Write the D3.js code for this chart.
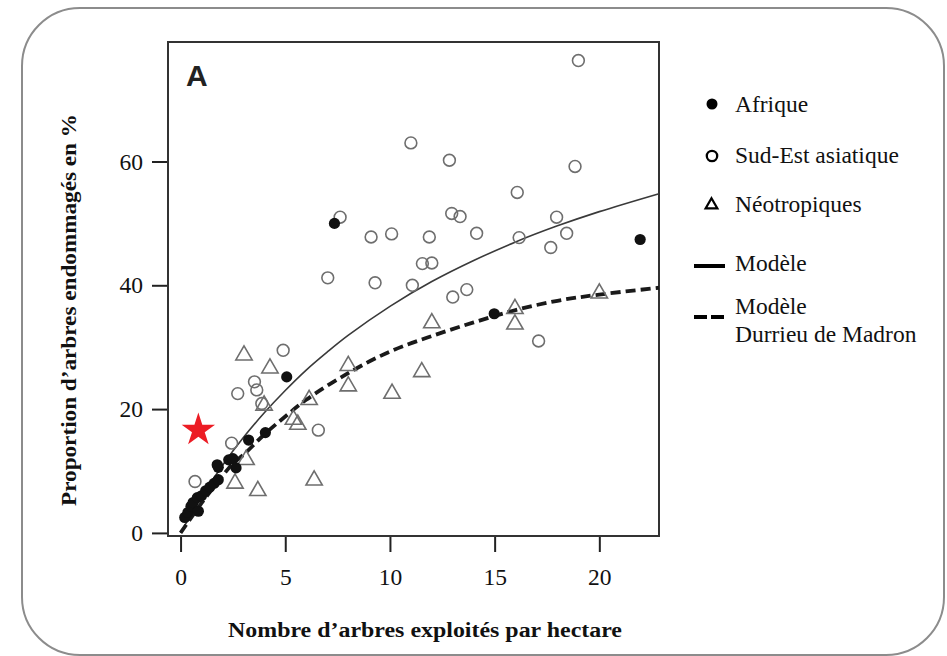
<!DOCTYPE html>
<html>
<head>
<meta charset="utf-8">
<script src="https://cdn.jsdelivr.net/npm/d3@7"></script>
<style>
  html, body { margin: 0; padding: 0; background: #fff; }
  svg { display: block; }
</style>
</head>
<body>
<script>
// ---------------- DATA ----------------
const xTicks = [0, 5, 10, 15, 20];
const yTicks = [0, 20, 40, 60];

const afrique = [
  [0.2, 2.5], [0.35, 3.3], [0.5, 4.3], [0.6, 4.9], [0.85, 3.5], [0.8, 5.7],
  [1.0, 6.0], [1.2, 6.8], [1.4, 7.4], [1.6, 8.0], [1.8, 8.6], [1.8, 10.6],
  [1.75, 11.0], [2.3, 11.8], [2.5, 12.0], [2.65, 10.5], [3.25, 15.0], [4.05, 16.2],
  [5.07, 25.2], [7.35, 50.0], [14.98, 35.4], [21.95, 47.4]
];

const sudEst = [
  [0.69, 8.3], [2.44, 14.5], [2.73, 22.5], [3.53, 24.4], [3.64, 23.1], [3.88, 20.9],
  [4.9, 29.5], [6.58, 16.6], [7.03, 41.2], [7.62, 51.0], [9.1, 47.8], [9.29, 40.4],
  [10.08, 48.3], [11.0, 63.0], [11.07, 40.0], [11.55, 43.5], [11.88, 47.8], [12.0, 43.6],
  [12.84, 60.2], [12.95, 51.6], [13.0, 38.1], [13.35, 51.1], [13.67, 39.3], [14.14, 48.4],
  [16.08, 55.0], [16.17, 47.7], [17.1, 31.0], [17.68, 46.1], [17.96, 51.0], [18.44, 48.4],
  [18.84, 59.2], [19.0, 76.3]
];

const neotropiques = [
  [2.6, 8.0], [3.13, 11.8], [3.03, 28.7], [3.69, 6.8], [3.99, 20.6], [4.27, 26.6],
  [5.39, 18.3], [5.6, 17.5], [6.14, 21.5], [6.38, 8.5], [8.01, 27.0], [8.01, 23.7],
  [10.1, 22.5], [11.52, 26.0], [12.0, 33.9], [15.97, 36.2], [15.97, 33.7], [20.0, 38.7]
];

// model curves, values
const modeleX = [0, 1, 2, 3, 4, 5, 6, 7, 8, 10, 12, 14, 16, 18, 20, 22.85];
const modeleY = [0, 5.8, 10.9, 15.4, 19.4, 23.0, 26.3, 29.2, 31.9, 36.6, 40.6, 44.0, 47.0, 49.6, 51.9, 54.8];

const durrieuX = [0, 1, 2, 2.5, 3, 4, 5, 6, 8, 10, 12, 14, 16, 18, 20, 22.85];
const durrieuY = [0, 4.8, 9.2, 11.2, 12.6, 15.9, 18.8, 21.5, 25.8, 29.3, 31.8, 34.0, 36.0, 37.5, 38.5, 39.6];

const starPoint = [0.85, 16.6];

const legendLabels = ["Afrique", "Sud-Est asiatique", "Néotropiques", "Modèle", ["Modèle", "Durrieu de Madron"]];

// ---------------- LAYOUT ----------------
const W = 947, H = 656;
const svg = d3.select("body").append("svg").attr("width", W).attr("height", H);
svg.append("rect").attr("width", W).attr("height", H).attr("fill", "#fff");

// outer rounded frame
svg.append("rect")
  .attr("x", 22).attr("y", 8).attr("width", 922).attr("height", 647)
  .attr("rx", 58).attr("ry", 58)
  .attr("fill", "none").attr("stroke", "#8c8c8c").attr("stroke-width", 2);

const x = d3.scaleLinear().domain([-0.6, 22.85]).range([168, 659]);
const y = d3.scaleLinear().domain([-0.5, 79.3]).range([536, 42]);

const serif = "'Liberation Serif', 'Times New Roman', serif";

// axes
const xAxis = d3.axisBottom(x).tickValues(xTicks).tickSize(16).tickPadding(16).tickSizeOuter(0);
const yAxis = d3.axisLeft(y).tickValues(yTicks).tickSize(16).tickPadding(9).tickSizeOuter(0);

const gx = svg.append("g").attr("transform", "translate(0,536)").call(xAxis);
const gy = svg.append("g").attr("transform", "translate(168,0)").call(yAxis);
[gx, gy].forEach(g => {
  g.attr("font-family", serif).attr("font-size", 23.5);
  g.select(".domain").remove();
  g.selectAll(".tick line").attr("stroke", "#222").attr("stroke-width", 2);
  g.selectAll(".tick text").attr("font-family", serif).attr("font-size", 23.5).attr("fill", "#111");
});

// plot frame
svg.append("rect")
  .attr("x", 168).attr("y", 42).attr("width", 491).attr("height", 494)
  .attr("fill", "none").attr("stroke", "#333").attr("stroke-width", 2);

// panel letter
svg.append("text").attr("x", 186).attr("y", 86)
  .attr("font-family", "'Liberation Sans', Arial, sans-serif").attr("font-weight", "bold")
  .attr("font-size", 30).attr("fill", "#222").text("A");

// model lines
const line = d3.line().x(d => x(d[0])).y(d => y(d[1])).curve(d3.curveCatmullRom);
svg.append("path")
  .datum(modeleX.map((v, i) => [v, modeleY[i]]))
  .attr("d", line).attr("fill", "none").attr("stroke", "#3a3a3a").attr("stroke-width", 1.6);
svg.append("path")
  .datum(durrieuX.map((v, i) => [v, durrieuY[i]]))
  .attr("d", line).attr("fill", "none").attr("stroke", "#1a1a1a")
  .attr("stroke-width", 3.8).attr("stroke-dasharray", "10,5");

// markers
const grey = "#6e6e6e";
const tri = d3.symbol().type(d3.symbolTriangle).size(115);
svg.append("g").selectAll("path").data(neotropiques).join("path")
  .attr("d", tri)
  .attr("transform", d => `translate(${x(d[0])},${y(d[1])})`)
  .attr("fill", "none").attr("stroke", grey).attr("stroke-width", 1.6);

svg.append("g").selectAll("circle").data(sudEst).join("circle")
  .attr("cx", d => x(d[0])).attr("cy", d => y(d[1])).attr("r", 5.9)
  .attr("fill", "none").attr("stroke", grey).attr("stroke-width", 1.6);

svg.append("g").selectAll("circle").data(afrique).join("circle")
  .attr("cx", d => x(d[0])).attr("cy", d => y(d[1])).attr("r", 5.6)
  .attr("fill", "#111");

// red star
svg.append("path")
  .attr("d", d3.symbol().type(d3.symbolStar).size(345))
  .attr("transform", `translate(${x(starPoint[0])},${y(starPoint[1])})`)
  .attr("fill", "#ec1c24");

// axis titles
svg.append("text")
  .attr("transform", "translate(76,310) rotate(-90)")
  .attr("text-anchor", "middle")
  .attr("font-family", serif).attr("font-weight", "bold").attr("font-size", 20)
  .attr("textLength", 392).attr("lengthAdjust", "spacingAndGlyphs")
  .attr("fill", "#111")
  .text("Proportion d’arbres endommagés en %");

svg.append("text")
  .attr("x", 425).attr("y", 637)
  .attr("text-anchor", "middle")
  .attr("font-family", serif).attr("font-weight", "bold").attr("font-size", 20)
  .attr("textLength", 394).attr("lengthAdjust", "spacingAndGlyphs")
  .attr("fill", "#111")
  .text("Nombre d’arbres exploités par hectare");

// legend
const lg = svg.append("g");
const lx = 735;
const baselines = [112, 163, 212, 271, 314];
lg.append("circle").attr("cx", 712).attr("cy", 104).attr("r", 5.5).attr("fill", "#000");
lg.append("circle").attr("cx", 712).attr("cy", 156).attr("r", 5.2).attr("fill", "none")
  .attr("stroke", "#000").attr("stroke-width", 2.3);
lg.append("path").attr("d", d3.symbol().type(d3.symbolTriangle).size(60))
  .attr("transform", "translate(711.5,205)")
  .attr("fill", "none").attr("stroke", "#000").attr("stroke-width", 2.2);
lg.append("line").attr("x1", 694).attr("x2", 725).attr("y1", 266).attr("y2", 266)
  .attr("stroke", "#000").attr("stroke-width", 4);
lg.append("line").attr("x1", 694).attr("x2", 724).attr("y1", 317).attr("y2", 317)
  .attr("stroke", "#000").attr("stroke-width", 4).attr("stroke-dasharray", "13,4");

legendLabels.forEach((lab, i) => {
  const t = lg.append("text").attr("x", lx).attr("y", baselines[i])
    .attr("font-family", serif).attr("font-size", 23.5).attr("fill", "#111");
  if (Array.isArray(lab)) {
    t.selectAll("tspan").data(lab).join("tspan")
      .attr("x", lx).attr("dy", (d, j) => j === 0 ? 0 : 28).text(d => d);
  } else {
    t.text(lab);
  }
});
</script>
</body>
</html>
